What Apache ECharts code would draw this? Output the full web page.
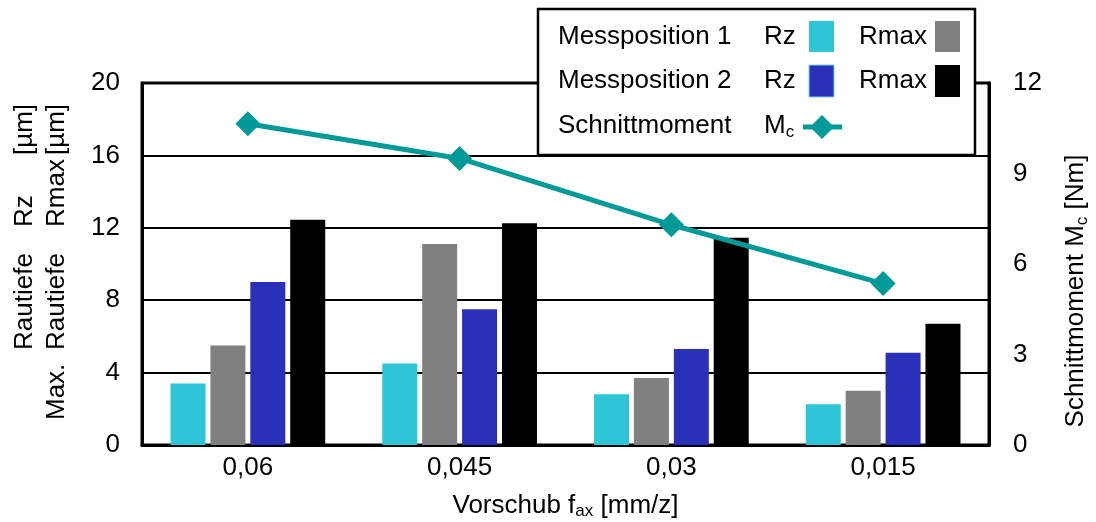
<!DOCTYPE html>
<html>
<head>
<meta charset="utf-8">
<script src="https://cdn.jsdelivr.net/npm/echarts@6/dist/echarts.min.js"></script>
<style>
  html, body { margin: 0; padding: 0; background: #fff; }
  #chart { width: 1096px; height: 522px; }
</style>
</head>
<body>
<div id="chart"></div>
<script>
// Feed rates (x categories)
const categories = ['0,06', '0,045', '0,03', '0,015'];

// Roughness depths in µm, measuring position 1 and 2
const rzPos1   = [3.4, 4.5, 2.8, 2.25];
const rmaxPos1 = [5.5, 11.1, 3.7, 3.0];
const rzPos2   = [9.0, 7.5, 5.3, 5.1];
const rmaxPos2 = [12.45, 12.25, 11.45, 6.7];

// Cutting torque in Nm (right axis)
const torque = [10.65, 9.5, 7.3, 5.35];

const FONT = '"Liberation Sans", Arial, sans-serif';
const FS = 26;
const C_RZ1 = '#2ec6d6';
const C_RMAX1 = '#808080';
const C_RZ2 = '#2a30b8';
const C_RMAX2 = '#000000';
const C_MC = '#009a98';

const chart = echarts.init(document.getElementById('chart'), null, { renderer: 'canvas' });

function barSeries(name, data, color) {
  return {
    name: name,
    type: 'bar',
    data: data,
    barWidth: 35,
    barGap: '14%',
    itemStyle: { color: color },
    silent: true
  };
}

// Rotated axis title pieces (left side, two lines)
function vText(x, y, text, align) {
  return {
    type: 'text',
    x: x, y: y,
    rotation: Math.PI / 2,
    z: 10,
    style: {
      text: text,
      font: FS + 'px ' + FONT,
      fill: '#000',
      align: align || 'left',
      verticalAlign: 'middle'
    }
  };
}

const subRich = { sub: { fontSize: 17, fontFamily: FONT, color: '#000', verticalAlign: 'bottom', padding: [12, 0, 0, 0] } };

// Legend box contents
const LX = 538, LY = 9;
function lText(x, y, text) {
  return { type: 'text', x: x, y: y, z: 21,
    style: { text: text, font: FS + 'px ' + FONT, fill: '#000', verticalAlign: 'middle', rich: subRich } };
}
const legend = [
  { type: 'rect', shape: { x: LX, y: LY, width: 437, height: 146 },
    style: { fill: '#fff', stroke: '#000', lineWidth: 2.5 }, z: 20 },
  lText(558, 37, 'Messposition 1'),
  lText(764, 37, 'Rz'),
  { type: 'rect', z: 21, shape: { x: 809, y: 21, width: 25, height: 31 }, style: { fill: C_RZ1 } },
  lText(859, 37, 'Rmax'),
  { type: 'rect', z: 21, shape: { x: 935, y: 21, width: 25, height: 31 }, style: { fill: C_RMAX1 } },
  lText(558, 81, 'Messposition 2'),
  lText(764, 81, 'Rz'),
  { type: 'rect', z: 21, shape: { x: 809, y: 65, width: 25, height: 32 }, style: { fill: C_RZ2, stroke: '#6fdbe6', lineWidth: 1 } },
  lText(859, 81, 'Rmax'),
  { type: 'rect', z: 21, shape: { x: 935, y: 65, width: 25, height: 32 }, style: { fill: C_RMAX2 } },
  lText(558, 126, 'Schnittmoment'),
  lText(764, 126, 'M{sub|c}'),
  { type: 'line', z: 21, shape: { x1: 803, y1: 127, x2: 842, y2: 127 }, style: { stroke: C_MC, lineWidth: 5 } },
  { type: 'polygon', z: 22, shape: { points: [[822, 115], [834, 127], [822, 139], [810, 127]] }, style: { fill: C_MC } }
];

const option = {
  backgroundColor: '#fff',
  animation: false,
  textStyle: { fontFamily: FONT },
  grid: {
    left: 142, top: 83, width: 847, height: 362,
    outerBoundsMode: 'none',
    containLabel: false,
    show: true, borderColor: '#000', borderWidth: 3, backgroundColor: 'transparent'
  },
  xAxis: {
    type: 'category',
    data: categories,
    axisLine: { show: true, lineStyle: { color: '#000', width: 3 } },
    axisTick: { show: false },
    axisLabel: { color: '#000', fontSize: FS, fontFamily: FONT, margin: 10 },
    name: 'Vorschub f{sub|ax} [mm/z]',
    nameLocation: 'middle',
    nameGap: 46,
    nameTextStyle: { color: '#000', fontSize: FS, fontFamily: FONT, rich: subRich }
  },
  yAxis: [
    {
      type: 'value', min: 0, max: 20, interval: 4,
      axisLine: { show: true, lineStyle: { color: '#000', width: 3 } },
      axisTick: { show: false },
      axisLabel: { color: '#000', fontSize: FS, fontFamily: FONT, margin: 22 },
      splitLine: { show: true, lineStyle: { color: '#000', width: 2 } }
    },
    {
      type: 'value', min: 0, max: 12, interval: 3,
      position: 'right',
      axisLine: { show: true, lineStyle: { color: '#000', width: 3 } },
      axisTick: { show: false },
      axisLabel: { color: '#000', fontSize: FS, fontFamily: FONT, margin: 24 },
      splitLine: { show: false }
    }
  ],
  series: [
    barSeries('Rz Messposition 1', rzPos1, C_RZ1),
    barSeries('Rmax Messposition 1', rmaxPos1, C_RMAX1),
    barSeries('Rz Messposition 2', rzPos2, C_RZ2),
    barSeries('Rmax Messposition 2', rmaxPos2, C_RMAX2),
    {
      name: 'Schnittmoment Mc',
      type: 'line',
      yAxisIndex: 1,
      data: torque,
      symbol: 'diamond',
      symbolSize: 25,
      showSymbol: true,
      lineStyle: { color: C_MC, width: 5 },
      itemStyle: { color: C_MC },
      z: 5,
      silent: true
    }
  ],
  graphic: [
    // left axis title, line 1: "Rautiefe Rz [µm]"
    vText(25, 350, 'Rautiefe'),
    vText(25, 227, 'Rz'),
    vText(25, 155, '[µm]'),
    // left axis title, line 2: "Max. Rautiefe Rmax [µm]"
    vText(57, 420, 'Max.'),
    vText(57, 350, 'Rautiefe'),
    vText(57, 227, 'Rmax'),
    vText(57, 155, '[µm]'),
    // right axis title
    {
      type: 'text', x: 1076, y: 291, rotation: Math.PI / 2, z: 10,
      style: {
        text: 'Schnittmoment M{sub|c} [Nm]', font: FS + 'px ' + FONT, fill: '#000',
        align: 'center', verticalAlign: 'middle', rich: subRich
      }
    }
  ].concat(legend)
};

chart.setOption(option);
</script>
</body>
</html>
